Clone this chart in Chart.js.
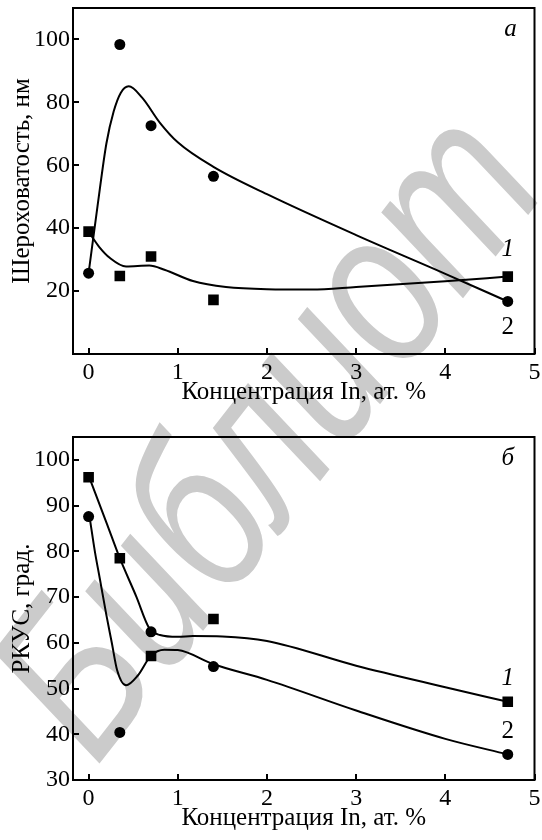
<!DOCTYPE html>
<html>
<head>
<meta charset="utf-8">
<script src="https://cdn.jsdelivr.net/npm/chart.js@4.4.1/dist/chart.umd.min.js"></script>
<style>
html, body { margin: 0; padding: 0; background: #fff; }
#wrap { position: relative; width: 542px; height: 840px; overflow: hidden; }
#wm {
    position: absolute; left: 0; top: 0;
    font: italic 222px "Liberation Sans", sans-serif;
    color: #cbcbcb; white-space: nowrap; line-height: 1;
    transform-origin: 0 0;
    transform: translate(-52px, 652px) rotate(-52deg) scaleX(0.78);
}
canvas { position: absolute; left: 0; }
</style>
</head>
<body>
<div id="wrap">
    <div id="wm">Библиот</div>
    <canvas id="chartA" width="542" height="420" style="top:0"></canvas>
    <canvas id="chartB" width="542" height="420" style="top:420px"></canvas>
</div>
<script>
// концентрация In, ат. %
const concentration = [0, 0.35, 0.7, 1.4, 4.7];

// (а) шероховатость, нм
const roughness1 = [38.9, 24.8, 31.0, 17.2, 24.6];   // квадраты
const roughness2 = [25.7, 98.4, 72.6, 56.5, 16.7];   // кружки

// кривые (а), точки
const roughFit1X = [0.02, 0.12, 0.24, 0.42, 0.68, 0.85, 1.17, 1.54, 2, 2.5, 3, 4, 4.7];
const roughFit1Y = [38, 34, 30.5, 27.8, 28.1, 26.8, 23.2, 21.3, 20.6, 20.5, 21.3, 23.1, 24.6];
const roughFit2X = [0, 0.1, 0.2, 0.28, 0.36, 0.45, 0.6, 0.8, 1.0, 1.4, 2, 3, 4, 4.7];
const roughFit2Y = [25.7, 47, 67, 77, 83, 85.1, 81.5, 73.5, 67.3, 59.5, 50.8, 37.8, 25.5, 16.7];

// (б) РКУС, град.
const angle1 = [96.2, 78.5, 57.1, 65.2, 47.1];   // квадраты
const angle2 = [87.6, 40.4, 62.4, 54.8, 35.6];   // кружки

const angleFit1X = [0.015, 0.2, 0.35, 0.535, 0.68, 0.8, 1.0, 1.17, 1.5, 2, 3, 4, 4.7];
const angleFit1Y = [95.8, 86.3, 78.5, 70.1, 63.2, 61.7, 61.3, 61.5, 61.4, 60.4, 55.0, 50.3, 47.1];
const angleFit2X = [0.015, 0.07, 0.126, 0.2, 0.26, 0.32, 0.42, 0.55, 0.7, 0.85, 1.0, 1.4, 2, 3, 4, 4.7];
const angleFit2Y = [87, 80, 74, 66, 60, 54, 50.7, 52.8, 57.2, 58.5, 58.4, 55.3, 51.9, 45.2, 39, 35.6];

// подписи осей
const xTicks = [0, 1, 2, 3, 4, 5];
const roughTicks = [20, 40, 60, 80, 100];
const angleTicks = [30, 40, 50, 60, 70, 80, 90, 100];

const FONT = '"Liberation Serif", "Times New Roman", serif';

function pts(xs, ys) {
    return xs.map((x, i) => ({ x: x, y: ys[i] }));
}

// рамка, внутренние засечки и подписи кривых
const framePlugin = {
    id: 'frame',
    afterDatasetsDraw(chart, args, opts) {
        const ctx = chart.ctx;
        const a = chart.chartArea;
        const xs = chart.scales.x, ys = chart.scales.y;
        ctx.save();
        ctx.strokeStyle = '#000';
        ctx.lineWidth = 2;
        ctx.strokeRect(a.left, a.top, a.right - a.left, a.bottom - a.top);
        ctx.beginPath();
        xTicks.forEach(v => {
            const px = Math.round(xs.getPixelForValue(v));
            ctx.moveTo(px, a.bottom);
            ctx.lineTo(px, a.bottom - 6);
        });
        opts.yTicks.forEach(v => {
            const py = Math.round(ys.getPixelForValue(v));
            ctx.moveTo(a.left, py);
            ctx.lineTo(a.left + 6, py);
        });
        ctx.stroke();
        ctx.fillStyle = '#000';
        ctx.textAlign = 'center';
        ctx.textBaseline = 'middle';
        opts.labels.forEach(l => {
            ctx.font = (l.italic ? 'italic ' : '') + '25px ' + FONT;
            ctx.fillText(l.text, xs.getPixelForValue(l.x), ys.getPixelForValue(l.y));
        });
        ctx.restore();
    }
};

function makeChart(id, p) {
    new Chart(document.getElementById(id), {
        type: 'scatter',
        data: {
            datasets: [
                { data: pts(p.fit1X, p.fit1Y), showLine: true, pointRadius: 0, borderColor: '#000', borderWidth: 2, cubicInterpolationMode: 'monotone' },
                { data: pts(p.fit2X, p.fit2Y), showLine: true, pointRadius: 0, borderColor: '#000', borderWidth: 2, cubicInterpolationMode: 'monotone' },
                { data: pts(concentration, p.s1), pointStyle: 'rect', pointRadius: 7.5, backgroundColor: '#000', borderColor: '#000', borderWidth: 0 },
                { data: pts(concentration, p.s2), pointStyle: 'circle', pointRadius: 5.5, backgroundColor: '#000', borderColor: '#000', borderWidth: 0 }
            ]
        },
        options: {
            responsive: false,
            animation: false,
            events: [],
            devicePixelRatio: 1,
            layout: { padding: { top: p.padTop, right: 5, left: 0, bottom: 0 } },
            scales: {
                x: {
                    type: 'linear', min: -0.175, max: 5,
                    afterBuildTicks: s => { s.ticks = xTicks.map(v => ({ value: v })); },
                    afterFit: s => { s.height = p.xAxisH; s.paddingLeft = 0; s.paddingRight = 0; },
                    grid: { display: false, drawTicks: false },
                    border: { display: false },
                    ticks: { padding: 4, color: '#000', font: { family: FONT, size: 24 }, maxRotation: 0 },
                    title: { display: true, text: 'Концентрация In, ат. %', color: '#000', font: { family: FONT, size: 25 }, padding: { top: 0, bottom: p.xTitlePad } }
                },
                y: {
                    type: 'linear', min: p.yMin, max: p.yMax,
                    afterBuildTicks: s => { s.ticks = p.yTicks.map(v => ({ value: v })); },
                    afterFit: s => { s.width = 73; s.paddingTop = 0; s.paddingBottom = 0; },
                    grid: { display: false, drawTicks: false },
                    border: { display: false },
                    ticks: { padding: 3, color: '#000', font: { family: FONT, size: 24 } },
                    title: { display: true, text: p.yTitle, color: '#000', font: { family: FONT, size: 25 }, padding: { top: 7, bottom: 0 } }
                }
            },
            plugins: {
                legend: { display: false },
                tooltip: { enabled: false },
                frame: { yTicks: p.yTicks, labels: p.labels }
            }
        },
        plugins: [framePlugin]
    });
}

makeChart('chartA', {
    s1: roughness1, s2: roughness2,
    fit1X: roughFit1X, fit1Y: roughFit1Y, fit2X: roughFit2X, fit2Y: roughFit2Y,
    yMin: 0, yMax: 110, yTicks: roughTicks,
    yTitle: 'Шероховатость, нм',
    padTop: 8, xAxisH: 66, xTitlePad: 13,
    labels: [
        { text: 'а', x: 4.73, y: 103.2, italic: true },
        { text: '1', x: 4.7, y: 33.1, italic: true },
        { text: '2', x: 4.7, y: 8.3, italic: false }
    ]
});

makeChart('chartB', {
    s1: angle1, s2: angle2,
    fit1X: angleFit1X, fit1Y: angleFit1Y, fit2X: angleFit2X, fit2Y: angleFit2Y,
    yMin: 30, yMax: 105, yTicks: angleTicks,
    yTitle: 'РКУС, град.',
    padTop: 17, xAxisH: 60, xTitlePad: 7,
    labels: [
        { text: 'б', x: 4.7, y: 100.3, italic: true },
        { text: '1', x: 4.7, y: 52.3, italic: true },
        { text: '2', x: 4.7, y: 40.6, italic: false }
    ]
});
</script>
</body>
</html>
